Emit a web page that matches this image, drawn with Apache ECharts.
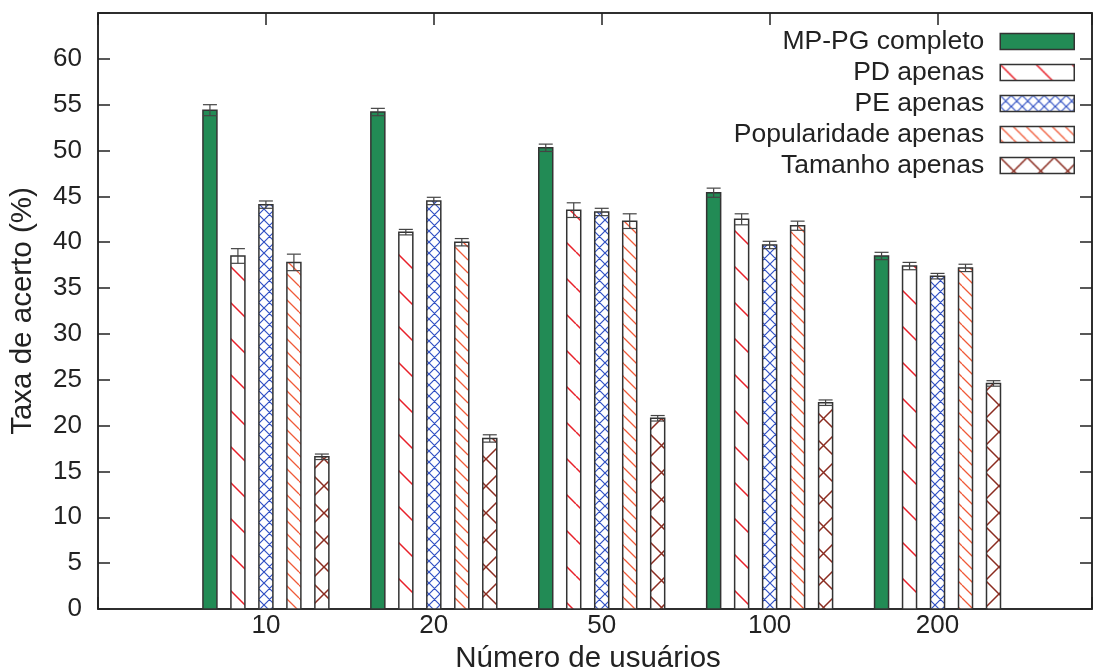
<!DOCTYPE html>
<html>
<head>
<meta charset="utf-8">
<script src="https://cdn.jsdelivr.net/npm/echarts@6/dist/echarts.min.js"></script>
<style>
  html, body { margin: 0; padding: 0; background: #fff; }
  #chart { width: 1096px; height: 669px; }
</style>
</head>
<body>
<div id="chart"></div>
<script>
// Hit rate (%) per number of users, for the full method and each single criterion
const categories = ['10', '20', '50', '100', '200'];
const seriesNames = ['MP-PG completo', 'PD apenas', 'PE apenas', 'Popularidade apenas', 'Tamanho apenas'];

const mpPgValues   = [54.4, 54.2, 50.3, 45.4, 38.5];
const mpPgErrors   = [0.6, 0.4, 0.4, 0.5, 0.4];
const pdValues     = [38.5, 41.1, 43.5, 42.5, 37.4];
const pdErrors     = [0.8, 0.3, 0.8, 0.6, 0.4];
const peValues     = [44.1, 44.5, 43.3, 39.7, 36.3];
const peErrors     = [0.4, 0.4, 0.4, 0.4, 0.3];
const popValues    = [37.8, 40.0, 42.3, 41.8, 37.2];
const popErrors    = [0.9, 0.4, 0.8, 0.5, 0.4];
const tamValues    = [16.6, 18.6, 20.8, 22.5, 24.6];
const tamErrors    = [0.3, 0.4, 0.3, 0.3, 0.3];

const yTicks = [0, 5, 10, 15, 20, 25, 30, 35, 40, 45, 50, 55, 60];

// Hatch tiles used as bar fills
function hatch(size, color, width, dirs) {
  const c = document.createElement('canvas');
  c.width = size; c.height = size;
  const g = c.getContext('2d');
  g.fillStyle = '#fff';
  g.fillRect(0, 0, size, size);
  g.strokeStyle = color;
  g.lineWidth = width;
  g.beginPath();
  dirs.forEach(function (d) {
    for (let k = -1; k <= 1; k++) {
      if (d === 'back') { g.moveTo(k * size, 0); g.lineTo(k * size + size, size); }
      else { g.moveTo(k * size, size); g.lineTo(k * size + size, 0); }
    }
  });
  g.stroke();
  return { image: c, repeat: 'repeat' };
}

const fills = [
  '#228B55',
  hatch(36, '#e8202a', 1.5, ['back']),
  hatch(11, '#3050c4', 1.2, ['back', 'fwd']),
  hatch(13, '#f05a38', 1.3, ['back']),
  hatch(27, '#8b2c20', 1.5, ['back', 'fwd'])
];

const valueSets = [mpPgValues, pdValues, peValues, popValues, tamValues];
const errorSets = [mpPgErrors, pdErrors, peErrors, popErrors, tamErrors];

const FONT = 'Liberation Sans';
const INK = '#222';

function makeRender(si) {
  const offset = (si - 2) / 6;
  const barW = 1 / 12;
  return function (params, api) {
    const gi = api.value(0);
    const v = api.value(1);
    const e = api.value(2);
    const xc = gi + offset;
    const tl = api.coord([xc - barW / 2, v]);
    const br = api.coord([xc + barW / 2, 0]);
    const lo = api.coord([xc, v - e]);
    const hi = api.coord([xc, v + e]);
    const capHalf = (br[0] - tl[0]) / 2;
    const errStyle = { stroke: '#444', lineWidth: 1.2 };
    return {
      type: 'group',
      children: [
        {
          type: 'rect',
          shape: { x: tl[0], y: tl[1], width: br[0] - tl[0], height: br[1] - tl[1] },
          style: { fill: fills[si], stroke: '#333', lineWidth: 1.5 }
        },
        { type: 'line', shape: { x1: lo[0], y1: lo[1], x2: hi[0], y2: hi[1] }, style: errStyle },
        { type: 'line', shape: { x1: hi[0] - capHalf, y1: hi[1], x2: hi[0] + capHalf, y2: hi[1] }, style: errStyle },
        { type: 'line', shape: { x1: lo[0] - capHalf, y1: lo[1], x2: lo[0] + capHalf, y2: lo[1] }, style: errStyle }
      ]
    };
  };
}

const series = seriesNames.map(function (name, si) {
  return {
    type: 'custom',
    name: name,
    renderItem: makeRender(si),
    itemStyle: { color: fills[si], borderColor: '#333', borderWidth: 1.5 },
    encode: { x: 0, y: 1 },
    data: valueSets[si].map(function (v, gi) { return [gi, v, errorSets[si][gi]]; }),
    z: 5
  };
});

const legendRowCenters = [41, 72, 103, 134, 165];
const legends = seriesNames.map(function (name, si) {
  return {
    data: [{ name: name, itemStyle: { color: fills[si], borderColor: '#333', borderWidth: 1.5 } }],
    right: 21,
    top: legendRowCenters[si] - 13,
    orient: 'vertical',
    align: 'right',
    icon: 'rect',
    itemWidth: 74,
    itemHeight: 16,
    padding: 0,
    selectedMode: false,
    textStyle: { fontFamily: FONT, fontSize: 26.5, color: INK, lineHeight: 26, padding: [0, 11, 0, 0] }
  };
});

const tickStyle = { show: true, inside: true, length: 12, lineStyle: { color: INK, width: 1.5 } };
const lineStyle = { show: true, onZero: false, lineStyle: { color: INK, width: 1.5 } };

const option = {
  animation: false,
  backgroundColor: '#fff',
  grid: {
    left: 98, right: 4, top: 13, bottom: 60,
    outerBoundsMode: 'none',
    containLabel: false,
    show: true, borderColor: INK, borderWidth: 1.5, backgroundColor: 'transparent'
  },
  legend: legends,
  xAxis: [
    {
      type: 'value', position: 'bottom', min: -1, max: 4.92, interval: 1,
      name: 'Número de usuários', nameLocation: 'middle', nameGap: 26,
      nameTextStyle: { fontFamily: FONT, fontSize: 29.5, color: INK, padding: [0, 14, 0, 0] },
      axisLine: lineStyle,
      axisTick: tickStyle,
      splitLine: { show: false },
      axisLabel: {
        fontFamily: FONT, fontSize: 26, color: INK, margin: 4,
        formatter: function (v) {
          return (Number.isInteger(v) && v >= 0 && v < categories.length) ? categories[v] : '';
        }
      }
    },
    {
      type: 'value', position: 'top', min: -1, max: 4.92, interval: 1,
      axisLine: lineStyle,
      axisTick: tickStyle, axisLabel: { show: false }, splitLine: { show: false }
    }
  ],
  yAxis: [
    {
      type: 'value', position: 'left', min: 0, max: 65, interval: 5,
      name: 'Taxa de acerto (%)', nameLocation: 'middle', nameGap: 60,
      nameTextStyle: { fontFamily: FONT, fontSize: 29.5, color: INK },
      axisLine: lineStyle,
      axisTick: tickStyle,
      splitLine: { show: false },
      axisLabel: {
        fontFamily: FONT, fontSize: 26, color: INK, margin: 16,
        formatter: function (v) { return yTicks.indexOf(v) >= 0 ? String(v) : ''; }
      }
    },
    {
      type: 'value', position: 'right', min: 0, max: 65, interval: 5,
      axisLine: lineStyle,
      axisTick: tickStyle, axisLabel: { show: false }, splitLine: { show: false }
    }
  ],
  series: series
};

const chart = echarts.init(document.getElementById('chart'), null, { renderer: 'canvas' });
chart.setOption(option);
</script>
</body>
</html>
